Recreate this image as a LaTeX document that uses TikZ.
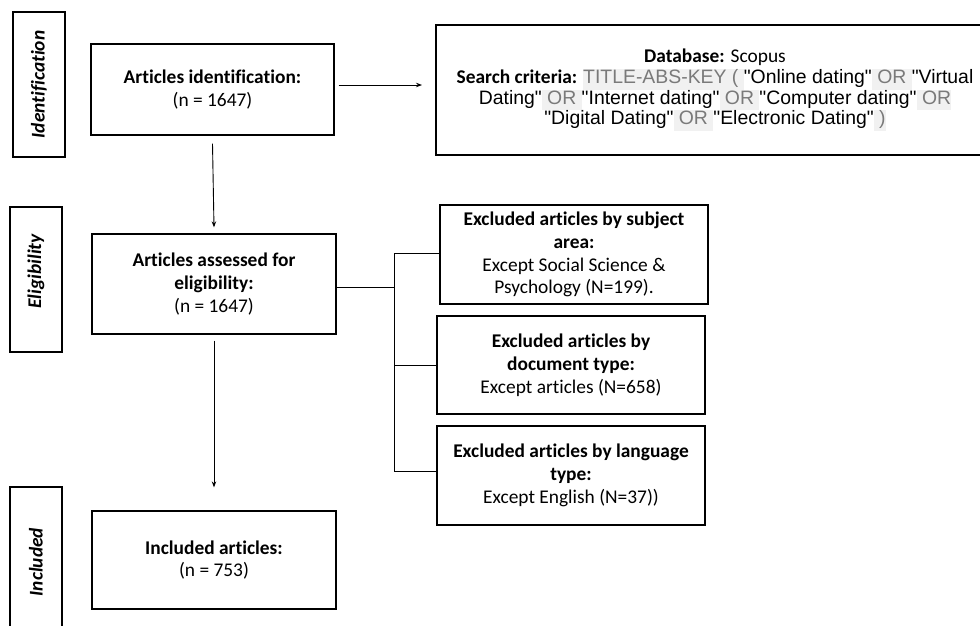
\documentclass[tikz,border=0pt]{standalone}
\usepackage{fontspec}
\setmainfont{Carlito}[Ligatures={TeX,NoCommon,NoContextual,NoRare},Contextuals={NoAlternate}]
\newfontfamily\arialf{Liberation Sans}
\usetikzlibrary{arrows.meta}
\definecolor{hlbg}{HTML}{F1F1F1}
\definecolor{hltx}{HTML}{7A7A7A}
\newcommand\hlt[1]{{\setlength{\fboxsep}{0pt}\colorbox{hlbg}{\color{hltx}\strut#1}}}
\begin{document}
\begin{tikzpicture}[x=1pt,y=-1pt,
  box/.style={draw, line width=1.3pt, align=center, inner sep=0pt, font=\fontsize{19.4}{22.8}\selectfont},
  side/.style={draw, line width=1.3pt, rotate=90, inner sep=0pt, minimum width=145pt, minimum height=52pt, font=\fontsize{19.4}{22.8}\selectfont\bfseries\itshape},
  conn/.style={line width=0.9pt},
  arr/.style={conn, -{Stealth[length=6pt,width=4.5pt]}}]
\useasboundingbox (0,0) rectangle (980,625);

% stage labels
\node[side] (sid1) at (39,84.5) {Identification};
\node[side] (sid2) at (36,279.5) {\hspace{16pt}Eligibility};
\node[side, minimum width=150pt] (sid3) at (36,562) {Included};

% main boxes
\node[box, minimum width=243pt, minimum height=91pt] (ident) at (212.5,89.5) {\textbf{Articles identification:}\\(n = 1647)};
\node[box, minimum width=244pt, minimum height=100pt] (assess) at (214,284) {\textbf{Articles assessed for}\\\textbf{eligibility:}\\(n = 1647)};
\node[box, minimum width=244pt, minimum height=98pt] (incl) at (214,560) {\textbf{Included articles:}\\(n = 753)};

% search box
\node[box, minimum width=558pt, minimum height=130pt, font=\fontsize{19.4}{20.8}\selectfont] (search) at (715,90)
 {\textbf{Database:} Scopus\\
  \textbf{Search criteria:} {\arialf\hlt{TITLE-ABS-KEY ( }"Online dating"\hlt{ OR }"Virtual}\\
  {\arialf Dating"\hlt{ OR }"Internet dating"\hlt{ OR }"Computer dating"\hlt{ OR}}\\
  {\arialf "Digital Dating"\hlt{ OR }"Electronic Dating"\hlt{ )}}};

% exclusion boxes
\node[box, minimum width=268pt, minimum height=99pt] (ex1) at (574,254.5) {\textbf{Excluded articles by subject}\\\textbf{area:}\\Except Social Science \&\\Psychology (N=199).};
\node[box, minimum width=268pt, minimum height=98pt] (ex2) at (571,365) {\textbf{Excluded articles by}\\\textbf{document type:}\\Except articles (N=658)};
\node[box, minimum width=268pt, minimum height=99pt] (ex3) at (571,475.5) {\textbf{Excluded articles by language}\\\textbf{type:}\\Except English (N=37))};

% connectors
\coordinate (tip1) at (422,85);
\path (ident.east |- tip1) coordinate (st1);
\draw[arr] ([xshift=4pt]st1) -- (tip1);
\draw[arr] ([yshift=-8pt]ident.south) -- ([yshift=6pt]assess.north);
\draw[arr] ([yshift=-6pt]assess.south) -- ([yshift=23pt]incl.north);

\coordinate (br) at (394,287);
\draw[conn] (assess.east |- br) -- (br);
\coordinate (b1) at (394,253);
\coordinate (b3) at (394,471);
\draw[conn] (ex1.west |- b1) -- (b1) -- (b3) -- (ex3.west |- b3);
\draw[conn] (ex2.west) -- (ex2.west -| br);
\end{tikzpicture}
\end{document}
